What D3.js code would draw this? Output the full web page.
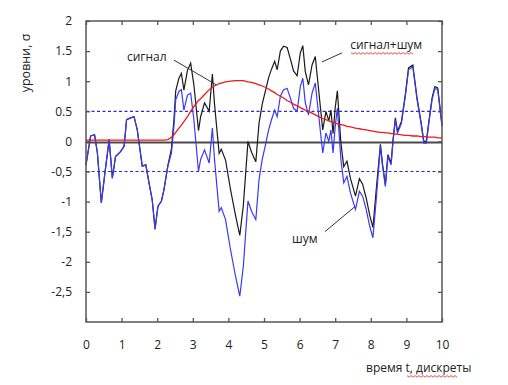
<!DOCTYPE html>
<html>
<head>
<meta charset="utf-8">
<script src="https://cdn.jsdelivr.net/npm/d3@7"></script>
<style>
  body { margin: 0; background: #fff; }
  svg { display: block; font-family: "Open Sans", "Noto Sans", sans-serif; }
</style>
</head>
<body>
<div id="chart"></div>
<script>
// time points (discrete samples)
var times = [0.00, 0.13, 0.24, 0.32, 0.43, 0.52, 0.65, 0.74, 0.83, 0.97,
  1.07, 1.14, 1.25, 1.35, 1.44, 1.58, 1.68, 1.77, 1.86, 1.94,
  2.02, 2.12, 2.19, 2.30, 2.40, 2.47, 2.52, 2.61, 2.68, 2.75,
  2.85, 2.94, 3.03, 3.16, 3.22, 3.33, 3.46, 3.55, 3.61, 3.74,
  3.80, 3.92, 4.06, 4.20, 4.32, 4.42, 4.55, 4.65, 4.77, 4.86,
  4.95, 5.04, 5.13, 5.21, 5.30, 5.37, 5.46, 5.55, 5.65, 5.74,
  5.83, 5.93, 6.02, 6.09, 6.16, 6.25, 6.35, 6.44, 6.51, 6.58,
  6.65, 6.74, 6.82, 6.88, 6.94, 7.00, 7.06, 7.16, 7.24, 7.33,
  7.43, 7.57, 7.68, 7.77, 7.87, 7.97, 8.06, 8.16, 8.27, 8.33,
  8.41, 8.48, 8.57, 8.62, 8.69, 8.75, 8.86, 8.97, 9.06, 9.18,
  9.30, 9.41, 9.49, 9.56, 9.63, 9.72, 9.80, 9.88, 10.00];

// шум (blue)
var noise = [-0.39, 0.09, 0.11, -0.19, -1.02, -0.58, 0.03, -0.61, -0.25, -0.17,
  -0.08, 0.36, 0.39, 0.41, 0.19, -0.41, -0.39, -0.69, -0.97, -1.46,
  -1.08, -0.99, -0.80, -0.41, -0.19, 0.25, 0.69, 0.83, 0.86, 0.52,
  0.77, 0.80, 0.36, -0.50, -0.30, -0.14, -0.36, 0.22, -0.30, -1.16,
  -1.10, -1.30, -1.80, -2.24, -2.57, -2.07, -0.99, -1.16, -1.30, -0.64,
  -0.30, -0.06, 0.19, 0.36, 0.52, 0.41, 0.75, 0.86, 0.88, 0.72,
  0.55, 0.50, 0.91, 1.05, 0.64, 0.44, 0.80, 0.97, 0.58, 0.19,
  -0.19, 0.14, 0.00, 0.19, -0.19, 0.25, 0.55, -0.30, -0.69, -0.58,
  -0.86, -1.13, -0.83, -0.91, -1.13, -1.41, -1.60, -0.91, -0.08, -0.41,
  -0.75, -0.25, -0.39, -0.03, 0.36, 0.14, 0.30, 0.75, 1.19, 1.24,
  0.69, 0.30, -0.03, -0.03, 0.30, 0.69, 0.88, 0.86, 0.25];

// сигнал (red)
var signal = [0.02, 0.02, 0.02, 0.02, 0.02, 0.02, 0.02, 0.02, 0.02, 0.02,
  0.02, 0.02, 0.02, 0.02, 0.02, 0.02, 0.02, 0.02, 0.02, 0.02,
  0.02, 0.02, 0.02, 0.03, 0.07, 0.11, 0.15, 0.22, 0.27, 0.33,
  0.41, 0.50, 0.58, 0.68, 0.71, 0.78, 0.86, 0.90, 0.92, 0.96,
  0.97, 0.99, 1.00, 1.01, 1.01, 1.01, 0.99, 0.98, 0.96, 0.94,
  0.92, 0.90, 0.87, 0.84, 0.81, 0.78, 0.75, 0.72, 0.68, 0.65,
  0.62, 0.59, 0.56, 0.54, 0.52, 0.50, 0.47, 0.44, 0.42, 0.40,
  0.38, 0.36, 0.34, 0.33, 0.32, 0.31, 0.29, 0.28, 0.27, 0.25,
  0.24, 0.22, 0.21, 0.20, 0.19, 0.18, 0.17, 0.16, 0.15, 0.15,
  0.14, 0.14, 0.13, 0.13, 0.12, 0.12, 0.11, 0.10, 0.10, 0.09,
  0.09, 0.08, 0.08, 0.08, 0.07, 0.07, 0.07, 0.06, 0.06];

// сигнал+шум (black)
var mixed = [-0.39, 0.09, 0.11, -0.19, -1.02, -0.58, 0.03, -0.61, -0.25, -0.17,
  -0.08, 0.36, 0.39, 0.41, 0.19, -0.41, -0.39, -0.69, -0.97, -1.46,
  -1.08, -0.99, -0.80, -0.40, -0.12, 0.36, 0.84, 1.05, 1.13, 0.85,
  1.18, 1.30, 0.94, 0.18, 0.41, 0.64, 0.50, 1.12, 0.62, -0.20,
  -0.13, -0.31, -0.80, -1.23, -1.56, -1.06, 0.00, -0.18, -0.34, 0.30,
  0.62, 0.84, 1.06, 1.20, 1.33, 1.19, 1.50, 1.58, 1.56, 1.37,
  1.17, 1.09, 1.47, 1.59, 1.16, 0.94, 1.27, 1.41, 1.00, 0.59,
  0.19, 0.50, 0.34, 0.52, 0.13, 0.56, 0.84, -0.02, -0.42, -0.33,
  -0.62, -0.91, -0.62, -0.71, -0.94, -1.23, -1.43, -0.75, -0.05, -0.38,
  -0.72, -0.22, -0.36, 0.00, 0.39, 0.17, 0.33, 0.78, 1.22, 1.27,
  0.72, 0.33, 0.00, 0.00, 0.33, 0.72, 0.91, 0.89, 0.28];

var xTicks = [0, 1, 2, 3, 4, 5, 6, 7, 8, 9, 10];
var yTicks = [2, 1.5, 1, 0.5, 0, -0.5, -1, -1.5, -2, -2.5];
var yTickLabels = ["2", "1.5", "1", "0.5", "0", "-0,5", "-1", "-1,5", "-2", "-2,5"];
var thresholds = [0.5, -0.5];

var width = 508, height = 385;
var margin = { top: 21, right: 66, bottom: 63, left: 86 };

var svg = d3.select("#chart").append("svg")
  .attr("width", width)
  .attr("height", height);

var x = d3.scaleLinear().domain([0, 10]).range([margin.left, width - margin.right]);
var y = d3.scaleLinear().domain([-3, 2]).range([height - margin.bottom, margin.top]);

// threshold lines
svg.selectAll(".thr")
  .data(thresholds)
  .enter()
  .append("line")
  .attr("class", "thr")
  .attr("x1", x(0)).attr("x2", x(10))
  .attr("y1", function (d) { return y(d); })
  .attr("y2", function (d) { return y(d); })
  .attr("stroke", "#2a2ad0")
  .attr("stroke-width", 1.2)
  .attr("stroke-dasharray", "3,2.5");

// zero line
svg.append("line")
  .attr("x1", x(0)).attr("x2", x(10))
  .attr("y1", y(0) + 1).attr("y2", y(0) + 1)
  .attr("stroke", "#4a4a4a")
  .attr("stroke-width", 2);

function makeLine(values) {
  return d3.line()
    .x(function (d, i) { return x(times[i]); })
    .y(function (d) { return y(d); })(values);
}

svg.append("path")
  .attr("d", makeLine(mixed))
  .attr("fill", "none")
  .attr("stroke", "#1a1a1a")
  .attr("stroke-width", 1.2);

svg.append("path")
  .attr("d", makeLine(noise))
  .attr("fill", "none")
  .attr("stroke", "#3a3af0")
  .attr("stroke-width", 1.2);

svg.append("path")
  .attr("d", makeLine(signal))
  .attr("fill", "none")
  .attr("stroke", "#f01818")
  .attr("stroke-width", 1.3);

// frame
svg.append("rect")
  .attr("x", x(0)).attr("y", y(2))
  .attr("width", x(10) - x(0))
  .attr("height", y(-3) - y(2))
  .attr("fill", "none")
  .attr("stroke", "#555")
  .attr("stroke-width", 1.5);

// axes with inward ticks
svg.append("g")
  .attr("transform", "translate(" + x(0) + ",0)")
  .call(d3.axisLeft(y).tickValues(yTicks).tickSize(-4).tickPadding(14)
    .tickFormat(function (d, i) { return yTickLabels[i]; }));

svg.append("g")
  .attr("transform", "translate(" + x(10) + ",0)")
  .call(d3.axisRight(y).tickValues(yTicks).tickSize(-4).tickFormat(""));

svg.append("g")
  .attr("transform", "translate(0," + y(-3) + ")")
  .call(d3.axisBottom(x).tickValues(xTicks).tickSize(-4).tickPadding(18)
    .tickFormat(d3.format("d")));

svg.append("g")
  .attr("transform", "translate(0," + y(2) + ")")
  .call(d3.axisTop(x).tickValues(xTicks).tickSize(-4).tickFormat(""));

svg.selectAll(".domain").remove();
svg.selectAll(".tick line").attr("stroke", "#555").attr("stroke-width", 1.3);
svg.selectAll(".tick text")
  .attr("fill", "#222")
  .style("font-size", "12px")
  .style("font-family", "'Open Sans', sans-serif");

// axis titles
svg.append("text")
  .attr("transform", "translate(30," + 63 + ") rotate(-90)")
  .attr("text-anchor", "middle")
  .attr("fill", "#222")
  .style("font-size", "12.5px")
  .text("уровни, σ");

svg.append("text")
  .attr("x", 366).attr("y", 372)
  .attr("fill", "#222")
  .style("font-size", "12px")
  .text("время t, дискреты");

// annotations
var notes = [
  { text: "сигнал", tx: 1.15, ty: 1.34, from: [2.47, 1.35], to: [3.66, 0.94] },
  { text: "сигнал+шум", tx: 7.42, ty: 1.54, from: [7.19, 1.47], to: [6.63, 1.32] },
  { text: "шум", tx: 5.79, ty: -1.68, from: [6.71, -1.50], to: [7.56, -1.08] }
];

notes.forEach(function (d) {
  svg.append("line")
    .attr("x1", x(d.from[0])).attr("y1", y(d.from[1]))
    .attr("x2", x(d.to[0])).attr("y2", y(d.to[1]))
    .attr("stroke", "#333")
    .attr("stroke-width", 1);
  svg.append("text")
    .attr("x", x(d.tx)).attr("y", y(d.ty))
    .attr("fill", "#222")
    .style("font-size", "12px")
    .text(d.text);
});

// spell-check squiggles under two labels
function squiggle(x0, x1, yy) {
  var pts = [];
  for (var px = x0, k = 0; px <= x1; px += 2, k++) {
    pts.push([px, yy + (k % 2 ? 1.2 : -0.4)]);
  }
  svg.append("path")
    .attr("d", d3.line()(pts))
    .attr("fill", "none")
    .attr("stroke", "#e02020")
    .attr("stroke-width", 0.8);
}
squiggle(351, 413, 53);
squiggle(407, 457, 376);
</script>
</body>
</html>
